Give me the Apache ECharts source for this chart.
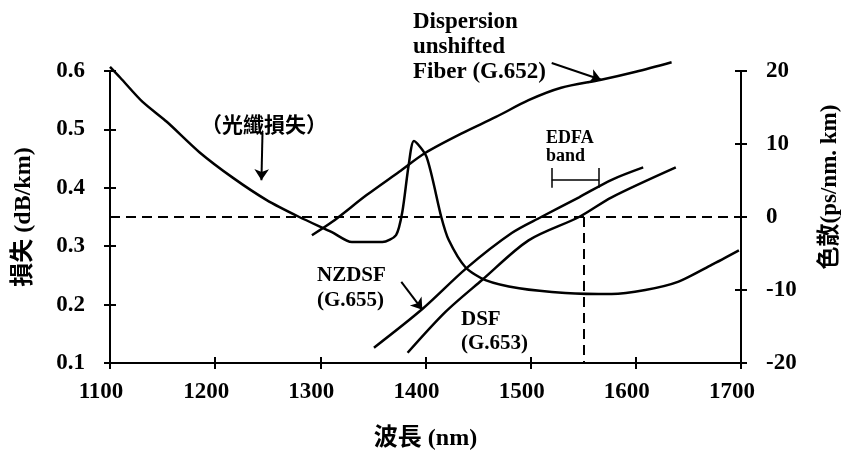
<!DOCTYPE html>
<html>
<head>
<meta charset="utf-8">
<script src="https://cdn.jsdelivr.net/npm/echarts@6/dist/echarts.min.js"></script>
<style>
html,body{margin:0;padding:0;background:#fff;}
#chart{width:850px;height:459px;}
</style>
</head>
<body>
<div id="chart"></div>
<script>
// ---- data ----
const xLabelName = '波長 (nm)';
const lossAxisName = '損失 (dB/km)';
const dispAxisName = '色散(ps/nm. km)';

// fiber attenuation curve (left axis, dB/km)
const lossWl  = [1100, 1110, 1131, 1154, 1185, 1217, 1249, 1280, 1311, 1330, 1359, 1372, 1378, 1384, 1389, 1401, 1415, 1422, 1438, 1457, 1489, 1533, 1577, 1609, 1640, 1672, 1698];
const lossVal = [0.607, 0.588, 0.547, 0.513, 0.461, 0.417, 0.379, 0.350, 0.324, 0.307, 0.307, 0.319, 0.359, 0.439, 0.480, 0.453, 0.350, 0.311, 0.264, 0.242, 0.228, 0.220, 0.218, 0.225, 0.239, 0.268, 0.293];

// dispersion curves (right axis, ps/nm.km)
const g652Wl  = [1292, 1311, 1344, 1375, 1400, 1435, 1467, 1498, 1529, 1567, 1600, 1634];
const g652Val = [-2.5, -0.7, 3.0, 6.2, 8.8, 11.5, 13.7, 16.0, 17.7, 18.8, 19.9, 21.2];

const nzdsfWl  = [1351, 1397, 1439, 1482, 1510, 1546, 1577, 1607];
const nzdsfVal = [-17.9, -12.6, -7.0, -2.2, 0.0, 2.7, 5.1, 6.8];

const dsfWl  = [1383, 1419, 1454, 1498, 1546, 1577, 1638];
const dsfVal = [-18.6, -13.0, -8.6, -3.2, 0.0, 2.7, 6.8];

// reference lines / annotation anchors
const zeroDispersion = 0;
const edfaBand = [1520, 1565];
const edfaLevel = 5.1;
const edfaTick = [4.0, 6.7];
const markWl = 1550;

const zip = (a, b) => a.map((v, i) => [v, b[i]]);

const serif = "'Liberation Serif','Times New Roman',serif";
const cjk = "'Liberation Serif','Noto Sans CJK TC',serif";
const black = '#000';

const chart = echarts.init(document.getElementById('chart'));

const arrowLine = { color: black, width: 2, type: 'solid' };
const dashLine = { color: black, width: 2, type: [10, 6] };

chart.setOption({
  backgroundColor: '#fff',
  animation: false,
  grid: { left: 110, right: 107, top: 71, bottom: 96 },
  xAxis: [
    {
      type: 'value', min: 1100, max: 1700, interval: 100, position: 'bottom',
      name: xLabelName, nameLocation: 'middle', nameGap: 64,
      nameTextStyle: { fontFamily: cjk, fontWeight: 'bold', fontSize: 24, color: black },
      axisLine: { show: true, onZero: false, lineStyle: { color: black, width: 2 } },
      axisTick: { show: true, inside: false, length: 6, lineStyle: { color: black, width: 2 } },
      axisLabel: { color: black, fontFamily: serif, fontWeight: 'bold', fontSize: 23, margin: 18,
        padding: [0, 18, 0, 0], formatter: v => String(v) },
      splitLine: { show: false }
    },
    {
      type: 'value', min: 1100, max: 1700, interval: 100, position: 'bottom',
      axisLine: { show: false, onZero: false },
      axisTick: { show: true, inside: true, length: 6, lineStyle: { color: black, width: 2 } },
      axisLabel: { show: false }, splitLine: { show: false }
    }
  ],
  yAxis: [
    {
      type: 'value', min: 0.1, max: 0.6, interval: 0.1, position: 'left',
      name: lossAxisName, nameLocation: 'middle', nameGap: 74, nameRotate: 90,
      nameTextStyle: { fontFamily: cjk, fontWeight: 'bold', fontSize: 24, color: black },
      axisLine: { show: true, onZero: false, lineStyle: { color: black, width: 2 } },
      axisTick: { show: true, inside: false, length: 6, lineStyle: { color: black, width: 2 } },
      axisLabel: { color: black, fontFamily: serif, fontWeight: 'bold', fontSize: 23, margin: 25,
        formatter: v => v.toFixed(1) },
      splitLine: { show: false }
    },
    {
      type: 'value', min: -20, max: 20, interval: 10, position: 'right',
      name: dispAxisName, nameLocation: 'middle', nameGap: 78, nameRotate: 90,
      nameTextStyle: { fontFamily: cjk, fontWeight: 'bold', fontSize: 23, color: black, padding: [0, 0, 0, 60] },
      axisLine: { show: true, onZero: false, lineStyle: { color: black, width: 2 } },
      axisTick: { show: true, inside: false, length: 6, lineStyle: { color: black, width: 2 } },
      axisLabel: { color: black, fontFamily: serif, fontWeight: 'bold', fontSize: 23, margin: 25 },
      splitLine: { show: false }
    },
    {
      type: 'value', min: 0.1, max: 0.6, interval: 0.1, position: 'left',
      axisLine: { show: false, onZero: false },
      axisTick: { show: true, inside: true, length: 6, lineStyle: { color: black, width: 2 } },
      axisLabel: { show: false }, splitLine: { show: false }
    },
    {
      type: 'value', min: -20, max: 20, interval: 10, position: 'right',
      axisLine: { show: false, onZero: false },
      axisTick: { show: true, inside: true, length: 6, lineStyle: { color: black, width: 2 } },
      axisLabel: { show: false }, splitLine: { show: false }
    }
  ],
  series: [
    {
      name: 'loss', type: 'line', xAxisIndex: 0, yAxisIndex: 0,
      data: zip(lossWl, lossVal), showSymbol: false, smooth: 0.25, clip: false,
      lineStyle: { color: black, width: 2.5 },
      markLine: {
        silent: true, symbol: ['none', 'arrow'], symbolSize: 11, label: { show: false },
        lineStyle: arrowLine,
        data: [[{ coord: [1245, 0.494] }, { coord: [1244, 0.413] }]]
      }
    },
    {
      name: 'G.652', type: 'line', xAxisIndex: 0, yAxisIndex: 1,
      data: zip(g652Wl, g652Val), showSymbol: false, smooth: 0.3, clip: false,
      lineStyle: { color: black, width: 2.5 }
    },
    {
      name: 'G.652 pointer', type: 'lines', coordinateSystem: 'cartesian2d', xAxisIndex: 0, yAxisIndex: 1,
      clip: false, silent: true, symbol: ['none', 'arrow'], symbolSize: 11,
      lineStyle: { color: black, width: 2, opacity: 1 },
      data: [{ coords: [[1520, 21.1], [1567, 18.8]] }]
    },
    {
      name: 'G.655', type: 'line', xAxisIndex: 0, yAxisIndex: 1,
      data: zip(nzdsfWl, nzdsfVal), showSymbol: false, smooth: 0.3, clip: false,
      lineStyle: { color: black, width: 2.5 },
      markLine: {
        silent: true, symbol: ['none', 'arrow'], symbolSize: 11, label: { show: false },
        lineStyle: arrowLine,
        data: [[{ coord: [1377, -8.9] }, { coord: [1397, -12.7] }]]
      }
    },
    {
      name: 'G.653', type: 'line', xAxisIndex: 0, yAxisIndex: 1,
      data: zip(dsfWl, dsfVal), showSymbol: false, smooth: 0.3, clip: false,
      lineStyle: { color: black, width: 2.5 },
      markLine: {
        silent: true, symbol: ['none', 'none'], label: { show: false },
        data: [
          [{ coord: [1100, zeroDispersion], lineStyle: dashLine }, { coord: [1700, zeroDispersion] }],
          [{ coord: [markWl, zeroDispersion], lineStyle: dashLine }, { coord: [markWl, -20] }],
          [{ coord: [edfaBand[0], edfaLevel], lineStyle: { color: black, width: 1.5, type: 'solid' } }, { coord: [edfaBand[1], edfaLevel] }],
          [{ coord: [edfaBand[0], edfaTick[0]], lineStyle: { color: black, width: 1.5, type: 'solid' } }, { coord: [edfaBand[0], edfaTick[1]] }],
          [{ coord: [edfaBand[1], edfaTick[0]], lineStyle: { color: black, width: 1.5, type: 'solid' } }, { coord: [edfaBand[1], edfaTick[1]] }]
        ]
      }
    }
  ],
  graphic: [
    { type: 'text', left: 413, top: 10, silent: true,
      style: { text: 'Dispersion\nunshifted\nFiber (G.652)', fill: black, font: "bold 23px 'Liberation Serif', serif", lineHeight: 25 } },
    { type: 'text', left: 201, top: 114, silent: true,
      style: { text: '（光纖損失）', fill: black, font: "bold 21px 'Noto Sans CJK TC', sans-serif" } },
    { type: 'text', left: 546, top: 129, silent: true,
      style: { text: 'EDFA\nband', fill: black, font: "bold 18px 'Liberation Serif', serif", lineHeight: 18 } },
    { type: 'text', left: 317, top: 263, silent: true,
      style: { text: 'NZDSF\n(G.655)', fill: black, font: "bold 21px 'Liberation Serif', serif", lineHeight: 25 } },
    { type: 'text', left: 461, top: 308, silent: true,
      style: { text: 'DSF\n(G.653)', fill: black, font: "bold 21px 'Liberation Serif', serif", lineHeight: 24 } }
  ]
});
</script>
</body>
</html>
